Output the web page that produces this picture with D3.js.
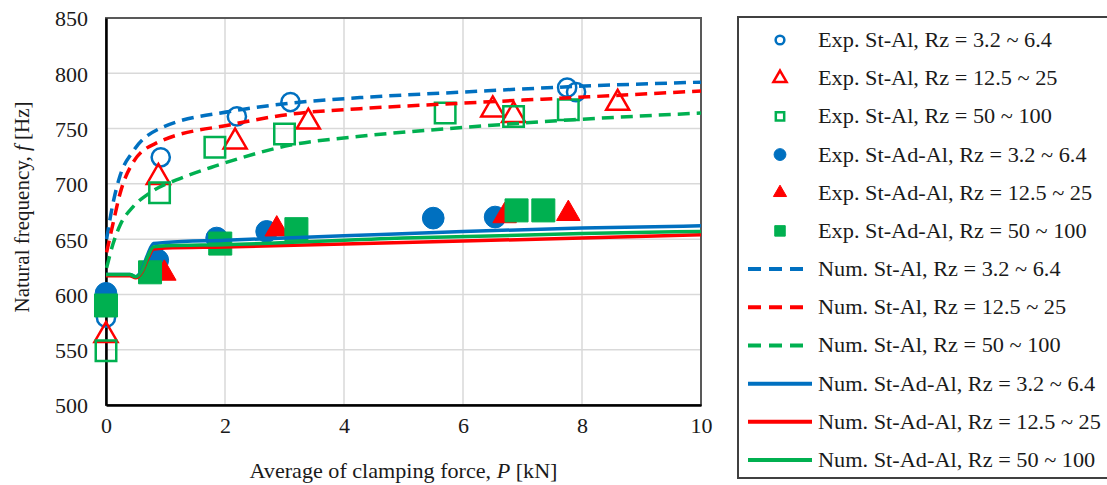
<!DOCTYPE html>
<html>
<head>
<meta charset="utf-8">
<script src="https://cdn.jsdelivr.net/npm/d3@7"></script>
<style>
  body { margin: 0; background: #fff; }
  svg { display: block; }
</style>
</head>
<body>
<div id="chart"></div>
<script>
/* ------------------------- Data ------------------------- */
var xTicks = [0, 2, 4, 6, 8, 10];
var yTicks = [500, 550, 600, 650, 700, 750, 800, 850];

/* Experiments, St-Al (open markers) */
var expStAl1 = [[0, 579], [0.92, 724], [2.2, 761], [3.1, 774], [7.75, 787], [7.9, 783]];
var expStAl2 = [[0, 563], [0.88, 706], [2.17, 738], [3.4, 756], [6.5, 767], [6.85, 762], [8.6, 773]];
var expStAl3 = [[0, 549], [0.9, 692], [1.83, 733], [3.0, 745], [5.7, 764], [6.85, 761], [7.77, 767]];

/* Experiments, St-Ad-Al (filled markers) */
var expAd1 = [[0, 601], [0.87, 631], [1.86, 651], [2.7, 657], [5.5, 669], [6.54, 670]];
var expAd2 = [[0.98, 619], [2.87, 659], [6.7, 671], [7.77, 673]];
var expAd3 = [[0, 590], [0.74, 620], [1.92, 646], [3.2, 659], [6.9, 676], [7.35, 676]];

/* Numerical, St-Al (dashed) */
var numStAl1 = [[0.01, 650], [0.12, 683], [0.24, 708], [0.45, 729], [0.9, 750], [2.14, 766], [3.1, 773], [4.27, 778], [6, 783], [7.85, 788], [10, 792]];
var numStAl2 = [[0.01, 638], [0.13, 667], [0.24, 692], [0.45, 719], [0.85, 737], [2.14, 754], [3.1, 763], [4.27, 768], [6, 773], [7.85, 778], [10, 784]];
var numStAl3 = [[0.01, 624], [0.12, 646], [0.24, 663], [0.45, 679], [0.74, 692], [1.3, 706], [1.83, 716], [3.1, 735], [4.27, 743], [6, 751], [7.85, 758], [10, 764]];

/* Numerical, St-Ad-Al (solid) */
var numAd1 = [[0, 618], [0.4, 618], [0.5, 616], [0.6, 622], [0.7, 636], [0.8, 646], [1, 647], [2, 649], [4, 653], [6, 657], [8, 660], [10, 662]];
var numAd2 = [[0, 617], [0.4, 617], [0.5, 615], [0.6, 620], [0.7, 632], [0.8, 641], [1, 642], [2, 643], [5, 647], [8, 651], [10, 654]];
var numAd3 = [[0, 618], [0.4, 618], [0.5, 616], [0.6, 621], [0.7, 634], [0.8, 643], [1, 644], [2, 645], [5, 651], [8, 655], [10, 657]];

var blue = "#0070c0", red = "#ff0000", green = "#00b050";

var series = [
    { name: "Exp. St-Al, Rz = 3.2 ~ 6.4",     data: expStAl1, type: "circle",   fill: false, color: blue },
    { name: "Exp. St-Al, Rz = 12.5 ~ 25",     data: expStAl2, type: "triangle", fill: false, color: red },
    { name: "Exp. St-Al, Rz = 50 ~ 100",      data: expStAl3, type: "square",   fill: false, color: green },
    { name: "Exp. St-Ad-Al, Rz = 3.2 ~ 6.4",  data: expAd1,   type: "circle",   fill: true,  color: blue },
    { name: "Exp. St-Ad-Al, Rz = 12.5 ~ 25",  data: expAd2,   type: "triangle", fill: true,  color: red },
    { name: "Exp. St-Ad-Al, Rz = 50 ~ 100",   data: expAd3,   type: "square",   fill: true,  color: green },
    { name: "Num. St-Al, Rz = 3.2 ~ 6.4",     data: numStAl1, type: "dash",  color: blue },
    { name: "Num. St-Al, Rz = 12.5 ~ 25",     data: numStAl2, type: "dash",  color: red },
    { name: "Num. St-Al, Rz = 50 ~ 100",      data: numStAl3, type: "dash",  color: green },
    { name: "Num. St-Ad-Al, Rz = 3.2 ~ 6.4",  data: numAd1,   type: "solid", color: blue },
    { name: "Num. St-Ad-Al, Rz = 12.5 ~ 25",  data: numAd2,   type: "solid", color: red },
    { name: "Num. St-Ad-Al, Rz = 50 ~ 100",   data: numAd3,   type: "solid", color: green }
];

/* ------------------------- Layout ------------------------- */
var W = 1107, H = 485;
var margin = { top: 18, left: 106 },
    width = 595,
    height = 387,
    fontFamily = "Liberation Serif",
    textColor = "#1a1a1a",
    stretch = 1.115;   // the reference text is a bit wider than the font

var svg = d3.select("#chart").append("svg")
    .attr("width", W)
    .attr("height", H)
    .attr("font-family", fontFamily);

var x = d3.scaleLinear().domain([0, 10]).range([0, width]);
var y = d3.scaleLinear().domain([500, 850]).range([height, 0]);

var chart = svg.append("g")
    .attr("transform", "translate(" + margin.left + "," + margin.top + ")");

/* Grid */
chart.append("g").selectAll("line").data(yTicks)
    .enter().append("line")
    .attr("x1", 0).attr("x2", width)
    .attr("y1", function(d) { return y(d); })
    .attr("y2", function(d) { return y(d); })
    .attr("stroke", "#d9d9d9").attr("stroke-width", 1.5);

chart.append("g").selectAll("line").data(xTicks)
    .enter().append("line")
    .attr("y1", 0).attr("y2", height)
    .attr("x1", function(d) { return x(d); })
    .attr("x2", function(d) { return x(d); })
    .attr("stroke", "#d9d9d9").attr("stroke-width", 1.5);

/* Plot frame */
chart.append("rect")
    .attr("width", width).attr("height", height)
    .attr("fill", "none").attr("stroke", "#595959").attr("stroke-width", 2);

/* Axes */
var xAxis = d3.axisBottom(x).tickValues(xTicks).tickSize(0).tickPadding(12);
var yAxis = d3.axisLeft(y).tickValues(yTicks).tickSize(0).tickPadding(18);

var gx = chart.append("g").attr("transform", "translate(0," + height + ")").call(xAxis);
var gy = chart.append("g").call(yAxis);

[gx, gy].forEach(function(g) {
    g.attr("font-family", fontFamily);
    g.select(".domain").attr("stroke", "#000").attr("stroke-width", 2.5);
    g.selectAll("text")
        .attr("font-family", fontFamily)
        .attr("font-size", 22)
        .attr("fill", textColor);
});
gy.selectAll("text").attr("dy", "0.36em");

/* Markers */
function markerPath(type, size) {
    var sym = type === "circle" ? d3.symbolCircle : type === "triangle" ? d3.symbolTriangle : d3.symbolSquare;
    return d3.symbol().type(sym).size(size)();
}

function markerSize(s) {
    if (s.type === "circle") return s.fill ? 370 : 260;
    if (s.type === "triangle") return s.fill ? 240 : 230;
    return s.fill ? 530 : 420;
}

var markerSeries = series.filter(function(s) { return s.type === "circle" || s.type === "triangle" || s.type === "square"; });
var lineSeries = series.filter(function(s) { return s.type === "dash" || s.type === "solid"; });

markerSeries.forEach(function(s) {
    chart.append("g").selectAll("path").data(s.data)
        .enter().append("path")
        .attr("transform", function(d) { return "translate(" + x(d[0]) + "," + y(d[1]) + ")"; })
        .attr("d", markerPath(s.type, markerSize(s)))
        .attr("fill", s.fill ? s.color : "none")
        .attr("stroke", s.color)
        .attr("stroke-width", s.fill ? 1 : 2.5);
});

/* Lines */
var line = d3.line()
    .x(function(d) { return x(d[0]); })
    .y(function(d) { return y(d[1]); })
    .curve(d3.curveMonotoneX);

lineSeries.forEach(function(s) {
    chart.append("path")
        .datum(s.data)
        .attr("fill", "none")
        .attr("stroke", s.color)
        .attr("stroke-width", 3.5)
        .attr("stroke-dasharray", s.type === "dash" ? "12,7" : null)
        .attr("d", line);
});

/* Axis titles */
var xTitle = svg.append("text")
    .attr("x", margin.left + width / 2)
    .attr("y", 478)
    .attr("text-anchor", "middle")
    .attr("font-family", fontFamily)
    .attr("font-size", 21)
    .attr("textLength", 308)
    .attr("lengthAdjust", "spacingAndGlyphs")
    .attr("fill", textColor);
xTitle.append("tspan").text("Average of clamping force, ");
xTitle.append("tspan").attr("font-style", "italic").text("P");
xTitle.append("tspan").text(" [kN]");

var yTitle = svg.append("text")
    .attr("transform", "translate(29,207)rotate(-90)")
    .attr("text-anchor", "middle")
    .attr("font-family", fontFamily)
    .attr("font-size", 20)
    .attr("textLength", 211)
    .attr("lengthAdjust", "spacingAndGlyphs")
    .attr("fill", textColor);
yTitle.append("tspan").text("Natural frequency, ");
yTitle.append("tspan").attr("font-style", "italic").text("f");
yTitle.append("tspan").text(" [Hz]");

/* ------------------------- Legend ------------------------- */
var legend = svg.append("g");

legend.append("rect")
    .attr("x", 738).attr("y", 17)
    .attr("width", 420).attr("height", 461)
    .attr("fill", "#fff")
    .attr("stroke", "#404040").attr("stroke-width", 2);

var rowY = d3.scaleLinear().domain([0, 11]).range([40, 460]);

var rows = legend.selectAll("g.row").data(series)
    .enter().append("g")
    .attr("class", "row")
    .attr("transform", function(d, i) { return "translate(0," + rowY(i) + ")"; });

rows.each(function(s) {
    var g = d3.select(this);
    if (s.type === "dash" || s.type === "solid") {
        g.append("line")
            .attr("x1", 748).attr("x2", s.type === "dash" ? 807 : 812)
            .attr("y1", 0).attr("y2", 0)
            .attr("stroke", s.color)
            .attr("stroke-width", 4)
            .attr("stroke-dasharray", s.type === "dash" ? "13,8" : null);
    } else {
        var sz = s.type === "square" ? (s.fill ? 110 : 70) : s.type === "triangle" ? 75 : (s.fill ? 110 : 60);
        g.append("path")
            .attr("transform", "translate(780,0)")
            .attr("d", markerPath(s.type, sz))
            .attr("fill", s.fill ? s.color : "none")
            .attr("stroke", s.color)
            .attr("stroke-width", s.fill ? 1 : 2.5);
    }
});

rows.append("text")
    .attr("transform", "translate(818,0)scale(" + stretch + ",1)")
    .attr("dy", "0.35em")
    .attr("font-family", fontFamily)
    .attr("font-size", 20)
    .attr("fill", textColor)
    .text(function(d) { return d.name; });
</script>
</body>
</html>
